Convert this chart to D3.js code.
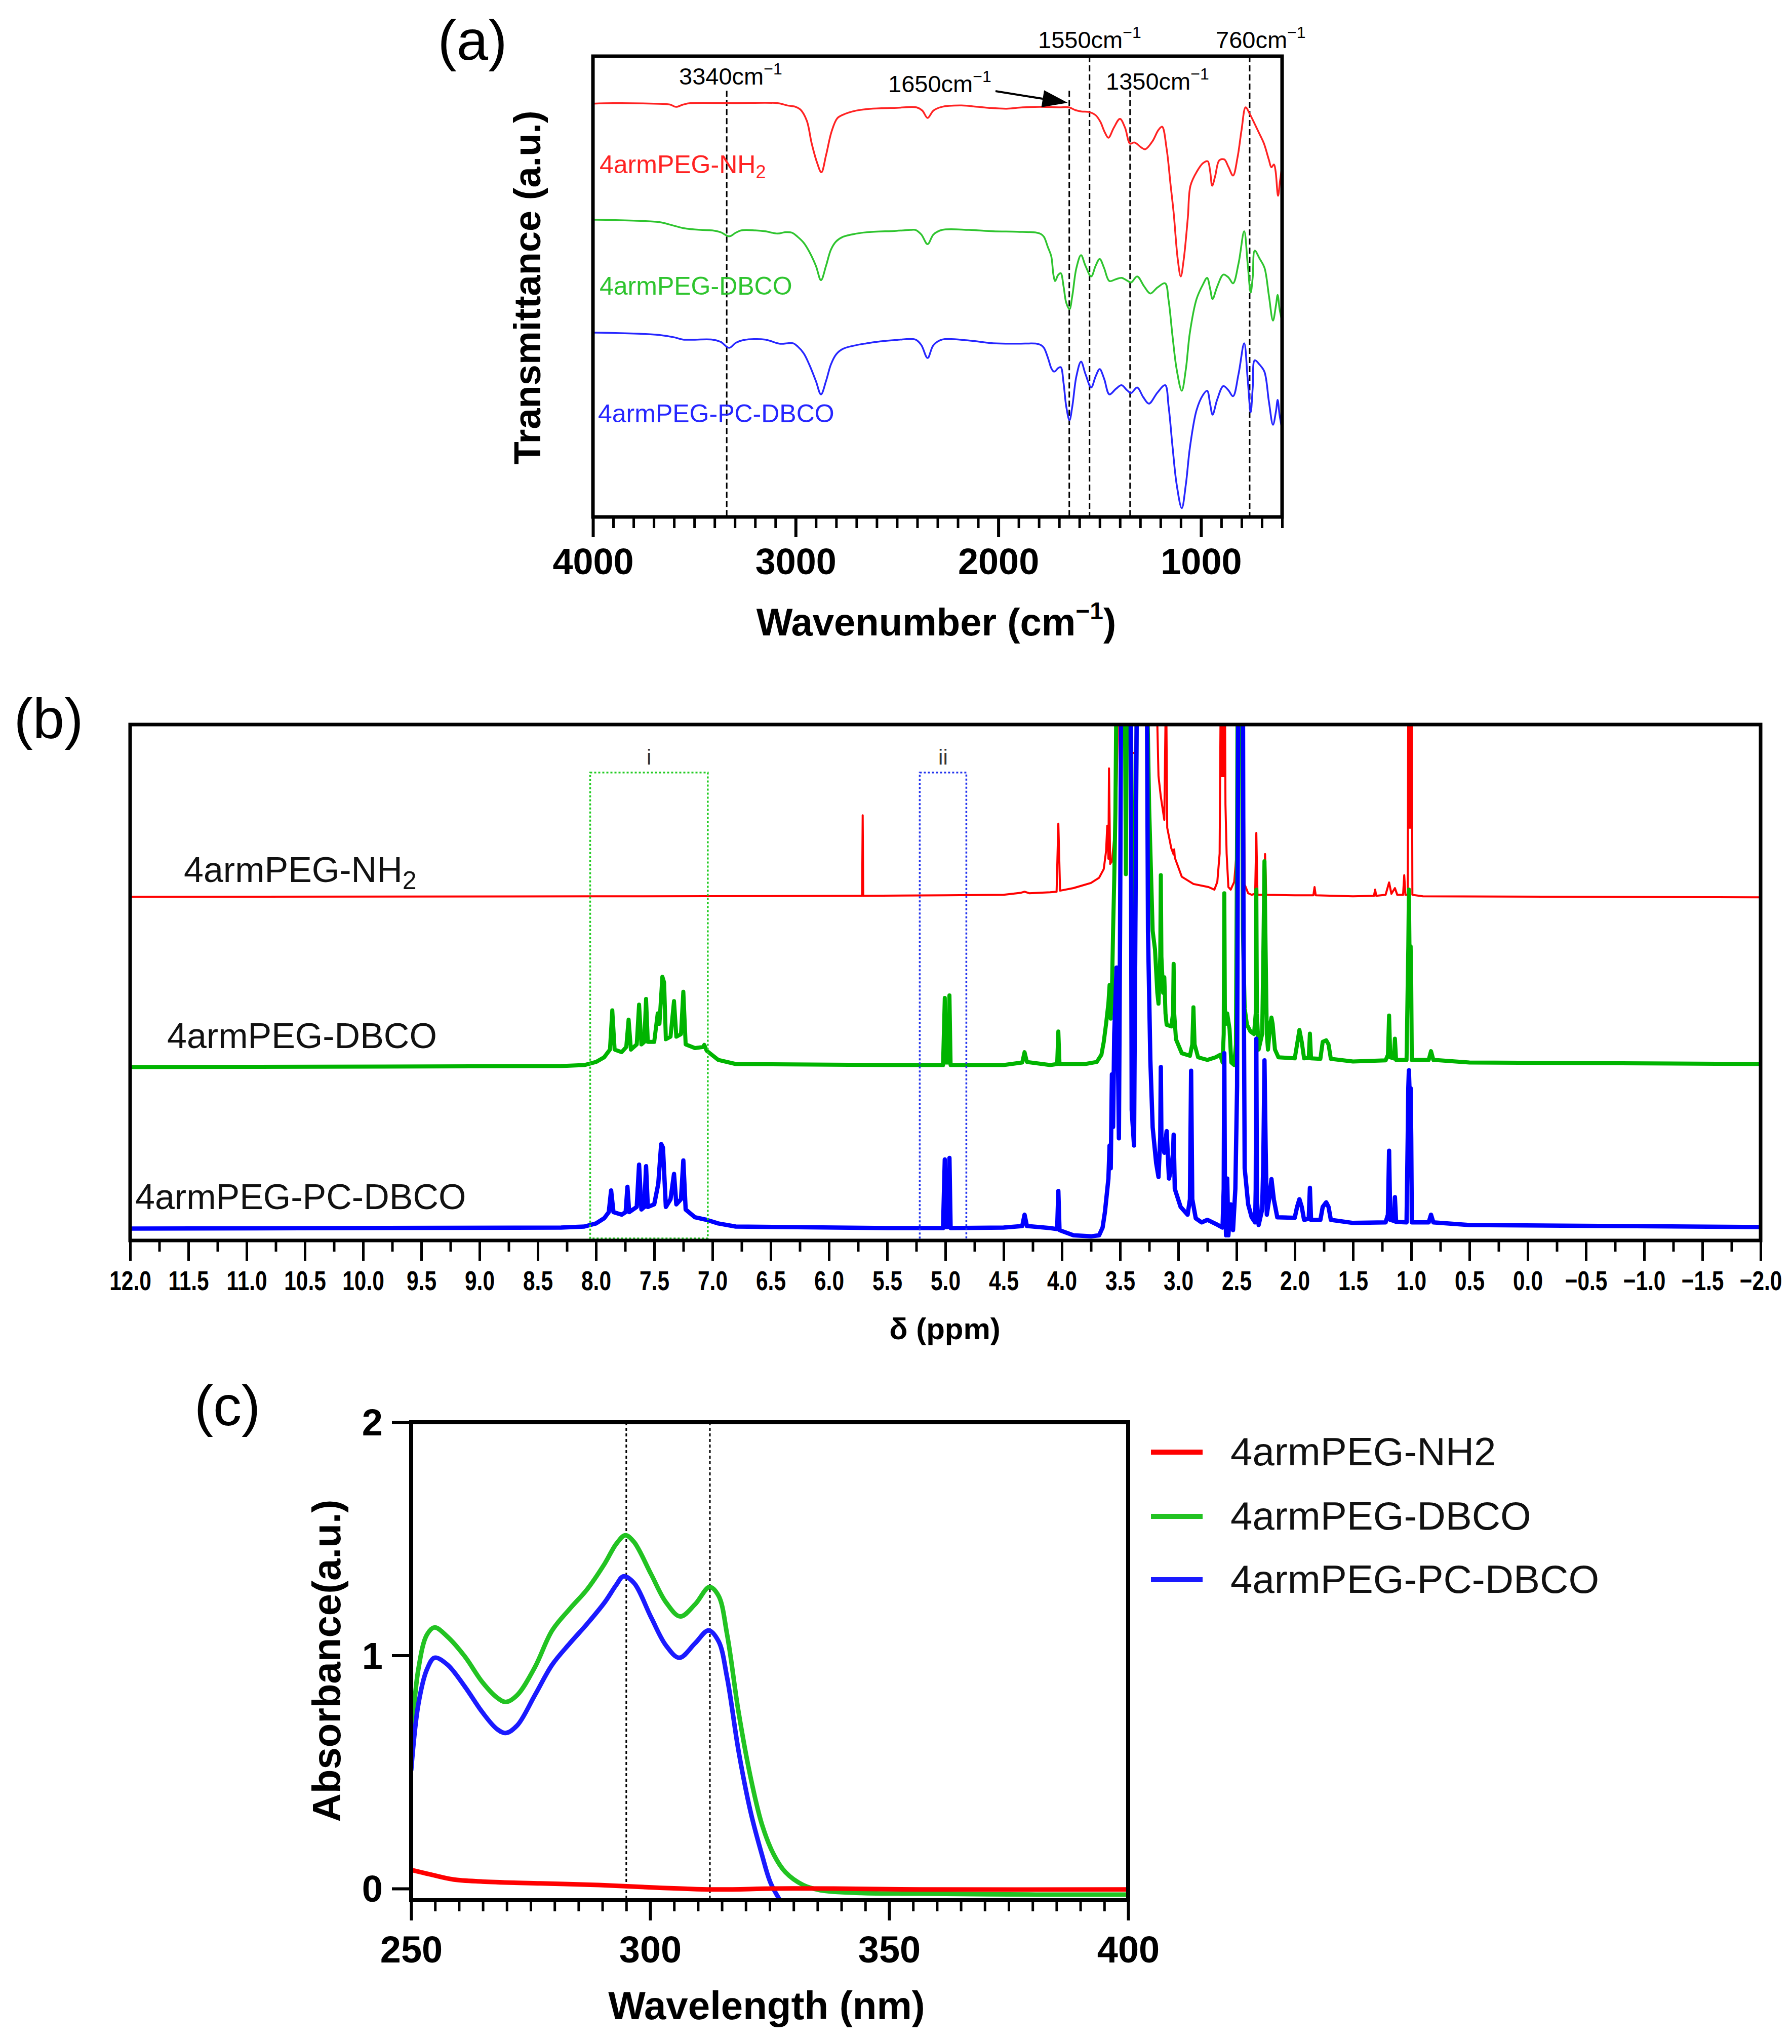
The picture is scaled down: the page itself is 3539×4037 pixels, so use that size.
<!DOCTYPE html>
<html><head><meta charset="utf-8">
<script src="https://cdn.jsdelivr.net/npm/d3@7"></script>
<style>body{margin:0;background:#fff}</style>
</head><body>
<script>
// ---------------- DATA ----------------
const seriesNames = ["4armPEG-NH2", "4armPEG-DBCO", "4armPEG-PC-DBCO"];

// (a) FTIR  [wavenumber cm-1, transmittance (a.u., offset)]
const irMajorTicks = [4000, 3000, 2000, 1000];
const irMarkers = [3340, 1650, 1550, 1350, 760];
const irMarkerTop = [92.5, 92.5, 100, 92.5, 100];
const irNH2 = [[4000,89.7],[3900,89.8],[3700,89.7],[3620,89.5],[3590,89.0],[3555,89.5],[3520,89.8],[3300,89.8],[3088,89.8],[3040,89.3],[3000,89.0],[2976,88.4],[2945,86],[2921,81.1],[2895,77],[2873,74.8],[2850,78.5],[2823,83.6],[2795,86.5],[2766,87.3],[2700,88.2],[2626,88.6],[2500,88.8],[2404,88.9],[2375,88.2],[2349,86.6],[2320,88.2],[2279,89.0],[2181,89.3],[2100,89.0],[2050,88.8],[1959,88.6],[1880,88.9],[1792,89.0],[1700,88.9],[1652,88.9],[1620,88.3],[1590,88.0],[1554,87.9],[1520,87.2],[1497,85.8],[1475,83.5],[1457,82.3],[1430,84.5],[1400,86.4],[1375,84.5],[1350,81.0],[1330,81.3],[1317,81.0],[1295,80.2],[1275,79.8],[1240,81.5],[1210,84.0],[1192,84.7],[1170,80],[1150,72],[1135,66],[1115,56],[1100,52.2],[1085,56],[1065,65],[1052,71.9],[1020,75],[990,76.8],[967,77.2],[955,75],[945,71.9],[930,74],[910,77.4],[885,77.6],[865,76],[842,74.1],[820,78],[800,84],[780,88.9],[760,87.5],[733,85.1],[710,83],[690,81.1],[665,77.5],[653,75.9],[640,76.5],[632,75],[620,69.7],[610,73],[600,76.1]];
const irDBCO = [[4000,64.5],[3985,64.5],[3800,64.3],[3675,64.0],[3600,63.2],[3555,62.7],[3470,62.3],[3412,62.2],[3370,61.8],[3328,60.9],[3295,61.7],[3268,62.2],[3200,62.2],[3150,62.0],[3090,61.5],[3050,61.8],[3018,61.7],[2990,60.8],[2960,59.5],[2933,57.6],[2900,54.5],[2875,51.4],[2850,54.5],[2826,58.0],[2800,59.8],[2766,60.8],[2700,61.5],[2648,61.8],[2504,62.1],[2430,62.3],[2409,62.3],[2380,61.3],[2349,59.2],[2320,61.3],[2277,62.3],[2145,62.3],[2026,62.0],[1907,61.9],[1812,61.7],[1790,61.4],[1775,60.8],[1755,58.5],[1739,56.6],[1728,52.5],[1720,51.2],[1705,52.5],[1692,52.9],[1678,50],[1665,46.5],[1649,45.1],[1635,48],[1615,54],[1592,56.8],[1570,54.5],[1542,52.2],[1520,54.5],[1500,56.0],[1478,54],[1452,51.2],[1420,51.6],[1392,51.9],[1365,51.3],[1345,50.9],[1315,52.2],[1280,50],[1250,48.5],[1215,49.8],[1177,50.7],[1160,47],[1140,39],[1120,32],[1095,27.4],[1075,32],[1055,40],[1022,47.3],[990,50.5],[970,51.9],[955,49.5],[943,47.3],[920,50],[890,52.6],[865,52],[842,50.7],[815,55],[787,62.0],[770,55],[755,48.7],[745,52],[735,57.8],[710,56],[687,54.1],[665,48],[645,42.6],[630,46],[622,48.2],[612,45],[603,43.1]];
const irPCDBCO = [[4000,40.0],[3985,40.0],[3800,39.8],[3675,39.5],[3600,39.0],[3555,38.5],[3412,38.5],[3370,38.0],[3328,36.7],[3295,37.8],[3256,38.4],[3150,38.5],[3080,37.6],[3013,37.7],[2990,37.0],[2960,35.5],[2933,33.1],[2900,29.5],[2875,26.6],[2850,29.5],[2826,33.1],[2800,35.3],[2766,36.5],[2648,37.7],[2504,38.4],[2409,38.5],[2380,37.3],[2349,34.5],[2320,37.3],[2277,38.5],[2145,38.3],[2026,37.7],[1907,37.6],[1812,37.6],[1790,37.3],[1775,36.7],[1755,34.5],[1739,32.3],[1728,31.6],[1720,31.6],[1705,32.3],[1692,32.5],[1678,29],[1665,24],[1649,21.0],[1635,24],[1615,30.5],[1592,33.7],[1570,31],[1542,28.1],[1520,30.5],[1500,32.1],[1478,30],[1452,26.6],[1420,27.8],[1392,28.6],[1365,27.5],[1345,26.9],[1315,28.1],[1285,26],[1257,24.6],[1215,27],[1177,28.6],[1160,24],[1140,15],[1120,7],[1095,1.9],[1075,7],[1055,15],[1022,23.2],[990,26.5],[970,27.4],[955,24.5],[943,22.2],[920,25.5],[890,28.4],[865,27.5],[842,26.2],[815,31],[787,37.7],[770,30],[755,22.7],[745,28],[735,34.0],[710,33],[687,31.5],[665,25],[645,20.0],[630,23],[622,25.4],[612,22],[603,19.8]];

// (b) 1H NMR  [δ ppm, intensity (a.u., offset)]
const nmrTickLabels = d3.range(0, 29).map(i => 12 - i * 0.5);
const nmrBoxI = [8.05, 7.04];
const nmrBoxII = [5.22, 4.82];
const nmrNH2 = [[12.0,66.6],[8.0,66.7],[5.74,66.8],[5.715,66.8],[5.71,82.4],[5.705,66.8],[5.0,66.9],[4.5,67.0],[4.35,67.4],[4.32,67.6],[4.28,67.3],[4.1,67.5],[4.045,67.6],[4.03,80.8],[4.015,67.8],[3.9,68.3],[3.75,69.3],[3.68,70.3],[3.64,72.0],[3.62,75.5],[3.61,80.4],[3.60,74],[3.595,91.5],[3.585,73],[3.57,73.5],[3.55,78],[3.53,88],[3.51,110],[3.42,110],[3.40,94.5],[3.37,94.5],[3.35,110],[3.19,110],[3.17,90],[3.15,86],[3.12,81.5],[3.105,110],[3.095,80],[3.06,76],[3.04,74.8],[3.035,75.8],[3.03,74.2],[2.97,70.5],[2.87,69.1],[2.74,68.5],[2.69,68.0],[2.665,69.5],[2.645,75],[2.635,110],[2.63,90],[2.625,110],[2.62,90],[2.615,110],[2.61,90],[2.605,110],[2.60,110],[2.595,84.5],[2.585,75],[2.57,68.5],[2.55,68.0],[2.52,69.5],[2.50,75],[2.485,110],[2.445,110],[2.43,69],[2.40,67.3],[2.37,67.0],[2.34,67.2],[2.33,79.0],[2.32,67.0],[2.265,67.0],[2.255,74.9],[2.245,67.0],[2.0,66.9],[1.84,66.9],[1.83,68.5],[1.82,66.9],[1.5,66.7],[1.32,66.8],[1.31,68.0],[1.30,66.8],[1.22,67],[1.19,69.4],[1.17,67.2],[1.14,68.3],[1.12,67],[1.07,67],[1.06,70.8],[1.05,67],[1.03,67],[1.025,110],[1.02,80],[1.015,110],[1.01,80],[1.005,110],[1.0,80],[0.995,110],[0.99,67],[0.9,66.7],[-2.0,66.5]];
const nmrDBCO = [[12.0,33.6],[8.3,33.8],[8.1,34.0],[8.0,34.6],[7.93,35.5],[7.88,37],[7.86,44.6],[7.84,37],[7.78,36.5],[7.74,37.5],[7.72,42.8],[7.70,37],[7.65,38],[7.63,45.7],[7.61,38],[7.585,38.5],[7.57,46.8],[7.555,38.5],[7.5,38.5],[7.47,44],[7.455,42],[7.43,51.1],[7.415,50],[7.40,39],[7.36,39.5],[7.33,46.4],[7.31,39.5],[7.27,40],[7.25,48.2],[7.23,38],[7.15,37.3],[7.08,37.5],[7.07,37.9],[7.05,36.8],[6.95,35],[6.8,34.2],[5.5,34],[5.02,34],[5.005,47],[4.995,34.5],[4.975,34.5],[4.965,47.5],[4.955,34],[4.5,34],[4.34,34.5],[4.32,36.5],[4.30,34.6],[4.1,34],[4.04,34.2],[4.03,40.5],[4.02,34.2],[3.8,34.2],[3.70,34.6],[3.66,36],[3.64,38.5],[3.62,42],[3.60,46],[3.59,49.5],[3.58,43],[3.57,48],[3.56,60],[3.55,70],[3.54,83],[3.53,110],[3.46,110],[3.45,71],[3.44,110],[3.41,110],[3.39,60],[3.37,60],[3.355,110],[3.27,110],[3.25,83.8],[3.22,60],[3.20,56.4],[3.18,48],[3.17,45.9],[3.155,55],[3.15,70.8],[3.145,55],[3.13,48],[3.12,51],[3.11,44],[3.10,41.8],[3.06,41.5],[3.045,44],[3.04,53.6],[3.035,44],[3.02,39],[2.97,36.3],[2.90,35.8],[2.88,38],[2.87,45.2],[2.86,38],[2.83,35.5],[2.75,35.0],[2.68,35.5],[2.64,36.0],[2.62,34.5],[2.61,40],[2.605,67.3],[2.60,45],[2.59,42],[2.58,44],[2.56,41],[2.545,34.5],[2.52,34],[2.505,38],[2.495,80.4],[2.49,110],[2.455,110],[2.445,60],[2.43,45],[2.41,41.8],[2.38,40.5],[2.35,40],[2.335,44],[2.33,68],[2.325,44],[2.31,37],[2.28,40],[2.27,55],[2.26,73.5],[2.25,56],[2.24,40],[2.23,37],[2.21,42],[2.20,43.2],[2.19,42],[2.17,37],[2.14,35.5],[2.0,35.3],[1.98,38],[1.96,40.8],[1.94,38.5],[1.92,35.3],[1.88,35.4],[1.87,40.1],[1.86,35.3],[1.78,35.2],[1.76,38.5],[1.73,38.8],[1.71,38],[1.69,35.2],[1.5,34.7],[1.22,34.9],[1.20,36],[1.19,43.6],[1.18,35.5],[1.15,35.3],[1.14,39.1],[1.13,35],[1.04,35],[1.03,50],[1.025,57],[1.02,68],[1.015,57],[1.01,57],[1.005,57],[1.0,50],[0.995,35],[0.85,35],[0.83,36.7],[0.81,35],[0.5,34.5],[-2.0,34.2]];
const nmrPCDBCO = [[12.0,2.3],[8.3,2.5],[8.1,2.7],[8.0,3.3],[7.93,4.3],[7.89,5.5],[7.87,9.7],[7.85,5.5],[7.78,5],[7.745,5.5],[7.73,10.4],[7.715,5.5],[7.65,6.5],[7.63,14.7],[7.61,6],[7.585,6.5],[7.57,14.4],[7.555,6.5],[7.5,7],[7.465,11],[7.44,18.7],[7.425,18],[7.40,6.5],[7.36,8],[7.33,12.9],[7.31,7],[7.27,8],[7.25,15.5],[7.23,6],[7.15,4.5],[7.05,4],[6.95,3.3],[6.8,2.7],[5.5,2.4],[5.02,2.4],[5.005,15.7],[4.995,2.6],[4.975,2.6],[4.965,16],[4.955,2.4],[4.5,2.5],[4.34,2.8],[4.32,5.0],[4.30,2.8],[4.1,2.4],[4.04,2.2],[4.03,9.6],[4.02,2.0],[3.9,1.0],[3.75,0.8],[3.68,1.0],[3.65,2.5],[3.63,5.5],[3.60,12],[3.59,18.4],[3.58,14],[3.57,32.2],[3.56,22],[3.55,40],[3.53,52.9],[3.515,30],[3.51,19.8],[3.50,60],[3.49,110],[3.41,110],[3.40,25.3],[3.38,18.4],[3.37,55],[3.355,110],[3.27,110],[3.26,59.8],[3.24,35],[3.22,21.9],[3.19,15],[3.17,12.3],[3.155,20],[3.15,33.6],[3.145,20],[3.12,17],[3.10,21.2],[3.08,12],[3.06,14],[3.045,17],[3.04,20.5],[3.03,10],[2.98,6.5],[2.92,5],[2.90,8],[2.89,32.9],[2.88,8],[2.85,4.3],[2.80,3.5],[2.75,4],[2.66,3.0],[2.62,2.5],[2.61,10],[2.605,36.3],[2.60,12],[2.59,1.0],[2.58,12],[2.57,1.0],[2.55,7],[2.53,2],[2.51,10],[2.495,30],[2.485,110],[2.445,110],[2.44,60],[2.43,14],[2.40,7],[2.37,4.5],[2.34,3.5],[2.335,10],[2.33,39.1],[2.325,8],[2.31,3],[2.28,6],[2.27,15],[2.26,34.9],[2.25,18],[2.24,5],[2.22,8],[2.20,11.9],[2.18,8],[2.15,4.5],[2.0,4.4],[1.98,6.5],[1.96,8.0],[1.94,6.5],[1.92,4],[1.88,4.2],[1.87,10.2],[1.86,4],[1.78,4],[1.76,6.5],[1.73,7.4],[1.71,6.5],[1.69,4.0],[1.5,3.4],[1.22,3.5],[1.20,5],[1.19,17.4],[1.18,4],[1.15,3.8],[1.14,8.4],[1.13,3.6],[1.04,3.5],[1.03,20],[1.025,29.5],[1.02,33],[1.015,29.5],[1.01,29.5],[1.005,29.5],[1.0,20],[0.995,3.5],[0.85,3.5],[0.83,5.0],[0.81,3.5],[0.5,3.0],[-2.0,2.6]];

// (c) UV-vis  [wavelength nm, absorbance]
const uvMajorTicks = [250, 300, 350, 400];
const uvYTicks = [0, 1, 2];
const uvMarkers = [295, 312.5];
const uvNH2 = [[250,0.08],[253.9,0.061],[258.8,0.039],[264.9,0.03],[277.1,0.022],[289.3,0.015],[301.5,0.004],[313.7,-0.004],[325.9,0],[338,0],[356.3,-0.004],[400,-0.004]];
const uvDBCO = [[250,0.617],[251.5,0.94],[253.3,1.089],[254.9,1.12],[257.6,1.08],[261.2,0.996],[264.9,0.885],[267.9,0.82],[269.8,0.80],[272.2,0.83],[275.9,0.95],[279.5,1.107],[283.2,1.2],[286.8,1.283],[290.5,1.394],[292.9,1.478],[294.8,1.515],[296.6,1.487],[300.2,1.348],[303.3,1.228],[306.3,1.167],[309.4,1.219],[312.4,1.293],[314.3,1.256],[316.1,1.089],[318.5,0.756],[321.0,0.478],[323.4,0.274],[325.9,0.144],[328.3,0.07],[332.0,0.015],[335.6,-0.007],[344.1,-0.019],[356.3,-0.022],[380.7,-0.026],[400,-0.026]];
const uvPCDBCO = [[250,0.506],[251.5,0.79],[253.3,0.94],[254.9,0.99],[257.6,0.96],[261.2,0.867],[264.9,0.756],[267.9,0.685],[269.8,0.667],[272.2,0.70],[275.9,0.83],[279.5,0.96],[283.2,1.052],[286.8,1.135],[290.5,1.228],[292.9,1.302],[294.4,1.339],[296.6,1.311],[300.2,1.163],[303.3,1.043],[306.1,0.99],[309.4,1.052],[312.2,1.107],[314.3,1.061],[316.1,0.904],[318.5,0.589],[321.0,0.33],[323.4,0.144],[325.2,0.024],[327.7,-0.068]];

// ---------------- DRAW ----------------
const W = 3539, H = 4037;
const FONT = "'Liberation Sans', Arial, Helvetica, sans-serif";
const svg = d3.select("body").append("svg").attr("width", W).attr("height", H)
  .attr("font-family", FONT);
svg.append("rect").attr("width", W).attr("height", H).attr("fill", "#fff");

function clip(id, b) {
  svg.append("clipPath").attr("id", id).append("rect")
    .attr("x", b.left).attr("y", b.top).attr("width", b.right - b.left).attr("height", b.bottom - b.top);
}

// ========== (a) FTIR ==========
const A = {left: 1171, right: 2532, top: 111, bottom: 1021};
const xA = d3.scaleLinear().domain([4000, 600]).range([A.left, A.right]);
const yA = d3.scaleLinear().domain([0, 100]).range([A.bottom, A.top]);
clip("clipA", A);
const irColors = ["#ff2222", "#2ec42e", "#2626ff"];
const gA = svg.append("g");

const gMk = gA.append("g").attr("clip-path", "url(#clipA)");
irMarkers.forEach((w, i) => {
  gMk.append("line").attr("x1", xA(w)).attr("x2", xA(w))
    .attr("y1", yA(irMarkerTop[i])).attr("y2", A.bottom)
    .attr("stroke", "#000").attr("stroke-width", 3).attr("stroke-dasharray", "12,6");
});
const lineA = d3.line().x(d => xA(d[0])).y(d => yA(d[1])).curve(d3.curveCatmullRom.alpha(0.5));
const gLA = gA.append("g").attr("clip-path", "url(#clipA)");
[irNH2, irDBCO, irPCDBCO].forEach((s, i) => {
  gLA.append("path").datum(s).attr("d", lineA).attr("fill", "none")
    .attr("stroke", irColors[i]).attr("stroke-width", 3.5).attr("stroke-linejoin", "round");
});
const axA = gA.append("g").attr("transform", `translate(0,${A.bottom})`)
  .call(d3.axisBottom(xA).tickValues(irMajorTicks).tickSize(40).tickFormat(d3.format("d")));
axA.select(".domain").remove();
axA.selectAll(".tick line").attr("stroke-width", 6);
axA.selectAll(".tick text").attr("font-size", 72).attr("font-weight", "bold").attr("font-family", FONT)
  .attr("y", 62).attr("dy", "0.71em").attr("fill", "#000");
const axAm = gA.append("g").attr("transform", `translate(0,${A.bottom})`)
  .call(d3.axisBottom(xA).tickValues(d3.range(3900, 599, -100).filter(v => v % 1000 !== 0)).tickSize(22).tickFormat(""));
axAm.select(".domain").remove();
axAm.selectAll(".tick line").attr("stroke-width", 5);
gA.append("rect").attr("x", A.left).attr("y", A.top).attr("width", A.right - A.left).attr("height", A.bottom - A.top)
  .attr("fill", "none").attr("stroke", "#000").attr("stroke-width", 7);

const tA = gA.append("text").attr("x", 1849).attr("y", 1255).attr("text-anchor", "middle")
  .attr("font-size", 76).attr("font-weight", "bold");
tA.append("tspan").text("Wavenumber (cm");
tA.append("tspan").attr("font-size", 48).attr("dy", -32).text("\u22121");
tA.append("tspan").attr("dy", 32).text(")");
gA.append("text").attr("transform", "translate(1067,568) rotate(-90)").attr("text-anchor", "middle")
  .attr("font-size", 74).attr("font-weight", "bold").text("Transmittance (a.u.)");
gA.append("text").attr("x", 933).attr("y", 118).attr("text-anchor", "middle").attr("font-size", 112).text("(a)");

const mkLabels = [
  {t: "3340cm", x: 1341, y: 167}, {t: "1650cm", x: 1754, y: 182}, {t: "1550cm", x: 2050, y: 95},
  {t: "1350cm", x: 2184, y: 177}, {t: "760cm", x: 2401, y: 95}];
mkLabels.forEach(m => {
  const t = gA.append("text").attr("x", m.x).attr("y", m.y).attr("font-size", 47);
  t.append("tspan").text(m.t);
  t.append("tspan").attr("font-size", 32).attr("dy", -20).text("\u22121");
});
{
  const tail = [1966, 180], tip = [xA(1650) - 3, 203];
  const ang = Math.atan2(tip[1] - tail[1], tip[0] - tail[0]);
  const L = 50, hw = 17;
  const base = [tip[0] - L * Math.cos(ang), tip[1] - L * Math.sin(ang)];
  const nx = -Math.sin(ang), ny = Math.cos(ang);
  gA.append("line").attr("x1", tail[0]).attr("y1", tail[1]).attr("x2", base[0]).attr("y2", base[1])
    .attr("stroke", "#000").attr("stroke-width", 4);
  gA.append("path").attr("d", `M${tip[0]},${tip[1]}L${base[0] + nx * hw},${base[1] + ny * hw}L${base[0] - nx * hw},${base[1] - ny * hw}Z`)
    .attr("fill", "#000");
}
const irLab = [{x: 1184, y: 342}, {x: 1184, y: 582}, {x: 1181, y: 834}];
irLab.forEach((p, i) => {
  const t = gA.append("text").attr("x", p.x).attr("y", p.y).attr("font-size", 50).attr("fill", irColors[i]);
  if (i === 0) {
    t.append("tspan").text("4armPEG-NH");
    t.append("tspan").attr("font-size", 36).attr("dy", 10).text("2");
  } else t.text(seriesNames[i]);
});

// ========== (b) NMR ==========
const B = {left: 257, right: 3477, top: 1431, bottom: 2450};
const xB = d3.scaleLinear().domain([12, -2]).range([B.left, B.right]);
const yB = d3.scaleLinear().domain([0, 100]).range([B.bottom, B.top]);
clip("clipB", {left: B.left, right: B.right, top: B.top + 3, bottom: B.bottom});
const nmrColors = ["#ff0000", "#00b400", "#0000ff"];
const nmrWidths = [4, 8, 8.5];
const gB = svg.append("g");
const lineB = d3.line().x(d => xB(d[0])).y(d => yB(d[1]));
const gLB = gB.append("g").attr("clip-path", "url(#clipB)");
[nmrNH2, nmrDBCO, nmrPCDBCO].forEach((s, i) => {
  gLB.append("path").datum(s).attr("d", lineB).attr("fill", "none")
    .attr("stroke", nmrColors[i]).attr("stroke-width", nmrWidths[i]).attr("stroke-linejoin", "round");
});
gB.append("rect").attr("x", xB(nmrBoxI[0])).attr("y", yB(90.7)).attr("width", xB(nmrBoxI[1]) - xB(nmrBoxI[0]))
  .attr("height", yB(0.4) - yB(90.7)).attr("fill", "none").attr("stroke", "#22cc22").attr("stroke-width", 3.5).attr("stroke-dasharray", "4,4");
gB.append("rect").attr("x", xB(nmrBoxII[0])).attr("y", yB(90.7)).attr("width", xB(nmrBoxII[1]) - xB(nmrBoxII[0]))
  .attr("height", yB(0) - yB(90.7)).attr("fill", "none").attr("stroke", "#2233ee").attr("stroke-width", 3.5).attr("stroke-dasharray", "4,4");
gB.append("text").attr("x", (xB(nmrBoxI[0]) + xB(nmrBoxI[1])) / 2).attr("y", 1510).attr("text-anchor", "middle")
  .attr("font-size", 42).attr("fill", "#333").text("i");
gB.append("text").attr("x", (xB(nmrBoxII[0]) + xB(nmrBoxII[1])) / 2).attr("y", 1510).attr("text-anchor", "middle")
  .attr("font-size", 42).attr("fill", "#333").text("ii");
const axB = gB.append("g").attr("transform", `translate(0,${B.bottom})`)
  .call(d3.axisBottom(xB).tickValues(nmrTickLabels).tickSize(40).tickFormat(d3.format(".1f")));
axB.select(".domain").remove();
axB.selectAll(".tick line").attr("stroke-width", 5);
axB.selectAll(".tick text").attr("font-size", 53).attr("font-weight", "bold").attr("font-family", FONT)
  .attr("y", 98).attr("dy", 0).attr("fill", "#000").attr("transform", "scale(0.8,1)");
const axBm = gB.append("g").attr("transform", `translate(0,${B.bottom})`)
  .call(d3.axisBottom(xB).tickValues(nmrTickLabels.slice(1).map(v => v + 0.25)).tickSize(22).tickFormat(""));
axBm.select(".domain").remove();
axBm.selectAll(".tick line").attr("stroke-width", 5);
gB.append("rect").attr("x", B.left).attr("y", B.top).attr("width", B.right - B.left).attr("height", B.bottom - B.top)
  .attr("fill", "none").attr("stroke", "#000").attr("stroke-width", 7);
gB.append("text").attr("x", 1866).attr("y", 2645).attr("text-anchor", "middle").attr("font-size", 60)
  .attr("font-weight", "bold").text("\u03b4 (ppm)");
gB.append("text").attr("x", 96).attr("y", 1458).attr("text-anchor", "middle").attr("font-size", 112).text("(b)");
const nmrLab = [{x: 363, y: 1742}, {x: 330, y: 2070}, {x: 267, y: 2388}];
nmrLab.forEach((p, i) => {
  const t = gB.append("text").attr("x", p.x).attr("y", p.y).attr("font-size", 70).attr("fill", "#111");
  if (i === 0) {
    t.append("tspan").text("4armPEG-NH");
    t.append("tspan").attr("font-size", 50).attr("dy", 14).text("2");
  } else t.text(seriesNames[i]);
});

// ========== (c) UV-vis ==========
const C = {left: 812, right: 2228, top: 2809, bottom: 3753};
const xC = d3.scaleLinear().domain([250, 400]).range([C.left, C.right]);
const yC = d3.scaleLinear().domain([-0.05, 2]).range([C.bottom, C.top]);
clip("clipC", C);
const uvColors = ["#ff0000", "#22c322", "#1a1aff"];
const gC = svg.append("g");
const gMc = gC.append("g");
uvMarkers.forEach(w => {
  gMc.append("line").attr("x1", xC(w)).attr("x2", xC(w)).attr("y1", C.top).attr("y2", C.bottom)
    .attr("stroke", "#000").attr("stroke-width", 3).attr("stroke-dasharray", "6,5");
});
const lineC = d3.line().x(d => xC(d[0])).y(d => yC(d[1])).curve(d3.curveCatmullRom.alpha(0.5));
const gLC = gC.append("g").attr("clip-path", "url(#clipC)");
[uvDBCO, uvPCDBCO, uvNH2].forEach((s, k) => {
  const i = [1, 2, 0][k];
  gLC.append("path").datum(s).attr("d", lineC).attr("fill", "none")
    .attr("stroke", uvColors[i]).attr("stroke-width", 9).attr("stroke-linejoin", "round");
});
const axC = gC.append("g").attr("transform", `translate(0,${C.bottom})`)
  .call(d3.axisBottom(xC).tickValues(uvMajorTicks).tickSize(40).tickFormat(d3.format("d")));
axC.select(".domain").remove();
axC.selectAll(".tick line").attr("stroke-width", 6);
axC.selectAll(".tick text").attr("font-size", 74).attr("font-weight", "bold").attr("font-family", FONT)
  .attr("y", 123).attr("dy", 0).attr("fill", "#000");
const axCm = gC.append("g").attr("transform", `translate(0,${C.bottom})`)
  .call(d3.axisBottom(xC).tickValues(d3.range(255, 400, 5).filter(v => v % 50 !== 0)).tickSize(22).tickFormat(""));
axCm.select(".domain").remove();
axCm.selectAll(".tick line").attr("stroke-width", 5);
const ayC = gC.append("g").attr("transform", `translate(${C.left},0)`)
  .call(d3.axisLeft(yC).tickValues(uvYTicks).tickSize(38).tickFormat(d3.format("d")));
ayC.select(".domain").remove();
ayC.selectAll(".tick line").attr("stroke-width", 6);
ayC.selectAll(".tick text").attr("font-size", 74).attr("font-weight", "bold").attr("font-family", FONT)
  .attr("x", -56).attr("dy", "0.35em").attr("fill", "#000");
gC.append("rect").attr("x", C.left).attr("y", C.top).attr("width", C.right - C.left).attr("height", C.bottom - C.top)
  .attr("fill", "none").attr("stroke", "#000").attr("stroke-width", 8);
gC.append("text").attr("x", 1514).attr("y", 3988).attr("text-anchor", "middle").attr("font-size", 78)
  .attr("font-weight", "bold").text("Wavelength (nm)");
gC.append("text").attr("transform", "translate(672,3280) rotate(-90)").attr("text-anchor", "middle")
  .attr("font-size", 78).attr("font-weight", "bold").text("Absorbance(a.u.)");
gC.append("text").attr("x", 449).attr("y", 2815).attr("text-anchor", "middle").attr("font-size", 112).text("(c)");
const legY = [2868, 2995, 3120];
seriesNames.forEach((n, i) => {
  gC.append("line").attr("x1", 2273).attr("x2", 2375).attr("y1", legY[i]).attr("y2", legY[i])
    .attr("stroke", uvColors[i]).attr("stroke-width", 10);
  gC.append("text").attr("x", 2430).attr("y", legY[i] + 26).attr("font-size", 78).attr("fill", "#111").text(n);
});
</script>
</body></html>
